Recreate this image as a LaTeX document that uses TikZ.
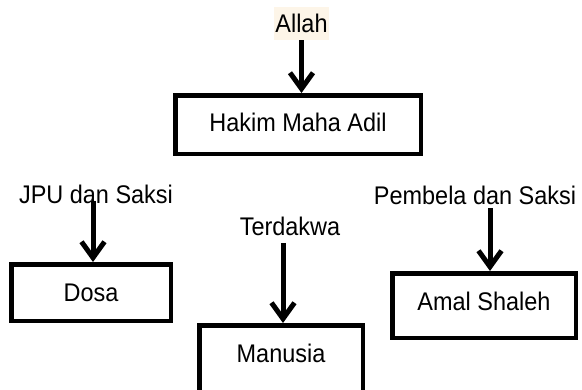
\documentclass[tikz,border=0pt]{standalone}
\usepackage{fontspec}
\setmainfont{Liberation Sans}[FakeStretch=0.92]
\usetikzlibrary{arrows.meta}
\definecolor{hilite}{RGB}{253,245,232}

\begin{document}
\begin{tikzpicture}[x=1pt,y=1pt]
	\tikzstyle{every node}+=[font=\fontsize{25.5}{30}\selectfont]
	\tikzstyle{box}=[draw=black, line width=4.5pt, inner sep=0pt]
	\tikzstyle{arr}=[black, line width=5pt, -{Straight Barb[length=16pt,width=23pt]}]
	\clip (0,0) rectangle (582,-389);
	\node [fill=hilite, inner xsep=1.5pt, minimum height=33pt] (allah) at (301.5,-23.5) {Allah};
	\node [box, minimum width=245.5pt, minimum height=58.5pt, text depth=5pt] (hakim) at (298,-124.5) {Hakim Maha Adil};
	\draw [arr] (allah.south) -- (allah.south |- hakim.north);
	\node (jpu) at (96,-194) {JPU dan Saksi};
	\node [box, minimum width=159.5pt, minimum height=56.5pt] (dosa) at (91,-292.5) {Dosa};
	\draw [arr] ([xshift=-3pt,yshift=6pt]jpu.south) -- ([xshift=-3pt]jpu.south |- dosa.north);
	\node (terdakwa) at (290,-226) {Terdakwa};
	\node [box, anchor=north, minimum width=163.5pt, text height=18pt, text depth=80pt, inner ysep=19pt] (manusia) at (281,-323) {Manusia};
	\draw [arr] ([xshift=-7pt,yshift=-4pt]terdakwa.south) -- ([xshift=-7pt]terdakwa.south |- manusia.north);
	\node (pembela) at (475,-195) {Pembela dan Saksi};
	\node [box, minimum width=183.5pt, minimum height=64.5pt, text depth=9pt] (amal) at (484,-305.5) {Amal Shaleh};
	\draw [arr] ([xshift=15pt]pembela.south) -- ([xshift=15pt]pembela.south |- amal.north);
\end{tikzpicture}
\end{document}
